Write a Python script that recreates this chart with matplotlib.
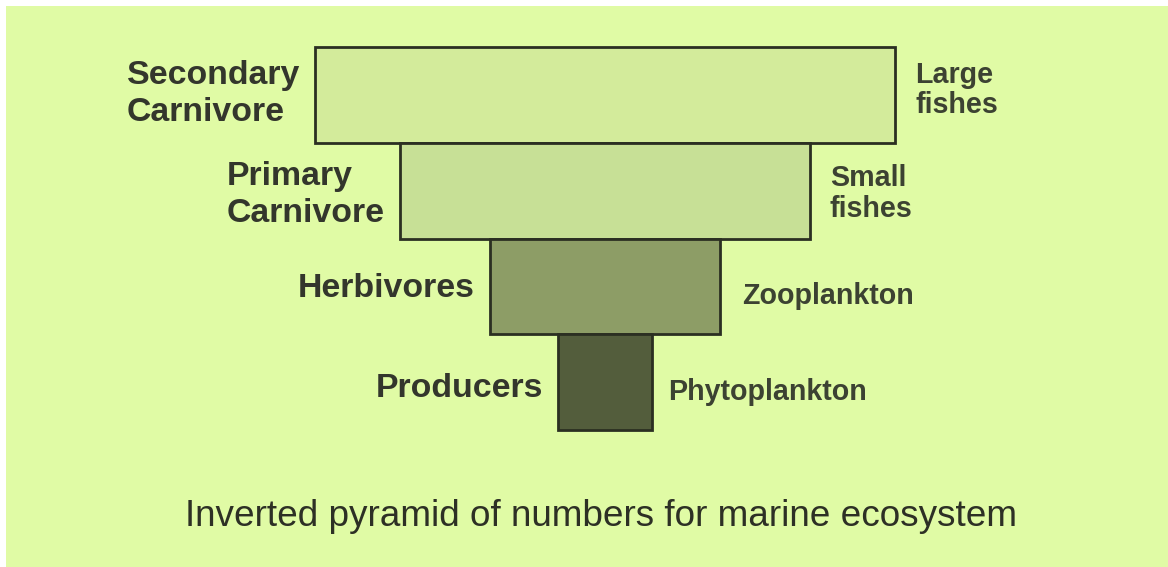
import matplotlib
matplotlib.use("Agg")
from matplotlib import pyplot as plt
from matplotlib.patches import Rectangle

# trophic levels, top of the pyramid first
levels = ['Secondary\nCarnivore', 'Primary\nCarnivore', 'Herbivores', 'Producers']
organisms = ['Large\nfishes', 'Small\nfishes', 'Zooplankton', 'Phytoplankton']
numbers = [580, 410, 230, 94]  # relative bar widths
fill_colors = ['#d3eb9b', '#c7e096', '#8d9d66', '#535d3c']

caption = 'Inverted pyramid of numbers for marine ecosystem'

plt.rcParams['font.family'] = ['Liberation Sans', 'DejaVu Sans']

fig = plt.figure(figsize=(11.68, 5.67), dpi=100, facecolor='white')
ax = fig.add_axes([0, 0, 1, 1])
ax.set_xlim(0, 1168)
ax.set_ylim(567, 0)
ax.axis('off')

# green panel
ax.add_patch(Rectangle((6, 6), 1162, 561, facecolor='#e0fba5', edgecolor='none', zorder=0))

center = 605
top = 47
step = 95.8
ys = [top + step * i + step / 2 for i in range(len(numbers))]
lefts = [center - w / 2 for w in numbers]

ax.barh(ys, numbers, height=step, left=lefts, color=fill_colors,
        edgecolor='#2b2f22', linewidth=2, zorder=2)

label_dy = [-1, 4, 2, 6]
right_dy = [-5, 3, 9, 10]
right_gap = [20, 20, 22, 16]
for i, (lab, org) in enumerate(zip(levels, organisms)):
    ax.text(lefts[i] - 15, ys[i] + label_dy[i], lab, ha='right', va='center',
            multialignment='left', fontsize=24.4, fontweight='bold',
            color='#33362c', linespacing=1.25)
    ax.text(lefts[i] + numbers[i] + right_gap[i], ys[i] + right_dy[i], org,
            ha='left', va='center', multialignment='left', fontsize=20.6,
            fontweight='bold', color='#3c4232', linespacing=1.12)

ax.text(601, 516, caption, ha='center', va='center', fontsize=26.6,
        color='#2d3025')

fig.savefig('out.png', dpi=100, facecolor=fig.get_facecolor())
